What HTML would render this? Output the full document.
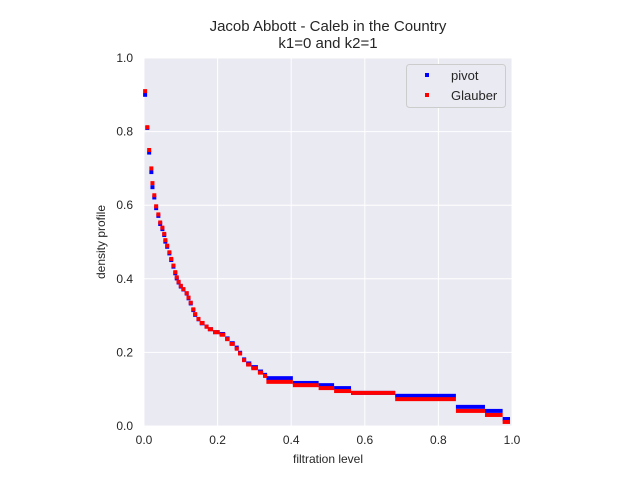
<!DOCTYPE html>
<html><head><meta charset="utf-8"><style>
body{margin:0;background:#fff}
svg{display:block;font-family:"Liberation Sans",sans-serif}
</style></head><body>
<svg id="chart" width="640" height="480" viewBox="0 0 640 480">
<text x="328" y="31" text-anchor="middle" font-size="15" fill="#262626">Jacob Abbott - Caleb in the Country</text>
<text x="328" y="48" text-anchor="middle" font-size="15" fill="#262626">k1=0 and k2=1</text>
<rect x="144" y="58" width="368" height="368" fill="#eaeaf2"/>
<g id="grid"></g><g id="ticks"></g><g id="marks"></g>
<text x="328" y="463" text-anchor="middle" font-size="12" fill="#262626">filtration level</text>
<text transform="translate(105,242) rotate(-90)" text-anchor="middle" font-size="12" fill="#262626">density profile</text>
<g>
<rect x="406.5" y="64.5" width="99" height="43" rx="3" fill="#eaeaf2" stroke="#cccccc"/>
<rect x="425" y="73" width="4" height="4" fill="#0000ff"/>
<text x="451" y="80" font-size="13" fill="#262626">pivot</text>
<rect x="425" y="93" width="4" height="4" fill="#ff0000"/>
<text x="451" y="100" font-size="13" fill="#262626">Glauber</text>
</g>
</svg>
<script>
const stepX=[0.003,0.009,0.014,0.02,0.023,0.028,0.033,0.039,0.044,0.05,0.055,0.058,0.063,0.069,0.074,0.08,0.085,0.089,0.094,0.1,0.107,0.116,0.121,0.127,0.134,0.139,0.148,0.157,0.17,0.179,0.193,0.211,0.226,0.238,0.252,0.261,0.272,0.283,0.297,0.315,0.329,0.338,0.41,0.48,0.522,0.568,0.688,0.853,0.932,0.98];
const pivotY=[0.90,0.81,0.743,0.69,0.649,0.621,0.592,0.571,0.549,0.535,0.519,0.501,0.487,0.469,0.451,0.433,0.415,0.401,0.39,0.379,0.371,0.36,0.347,0.333,0.315,0.302,0.29,0.279,0.27,0.263,0.255,0.25,0.238,0.225,0.213,0.199,0.181,0.17,0.16,0.148,0.139,0.13,0.117,0.111,0.103,0.09,0.082,0.052,0.041,0.019];
const glauberY=[0.91,0.812,0.75,0.70,0.66,0.627,0.597,0.575,0.553,0.539,0.522,0.505,0.49,0.472,0.454,0.436,0.418,0.404,0.392,0.381,0.372,0.361,0.349,0.335,0.317,0.304,0.291,0.28,0.27,0.263,0.255,0.248,0.236,0.223,0.21,0.197,0.179,0.167,0.157,0.145,0.136,0.12,0.111,0.103,0.095,0.09,0.073,0.041,0.03,0.011];
const xTicks=["0.0","0.2","0.4","0.6","0.8","1.0"];
const yTicks=["0.0","0.2","0.4","0.6","0.8","1.0"];
const NS="http://www.w3.org/2000/svg";
const X=v=>144+v*368, Y=v=>426-v*368;
function mk(t,a,p){const e=document.createElementNS(NS,t);for(const k in a)e.setAttribute(k,a[k]);p.appendChild(e);return e;}
const grid=document.getElementById('grid'),ticks=document.getElementById('ticks'),marks=document.getElementById('marks');
xTicks.forEach(s=>{const v=parseFloat(s);
 const l=mk('line',{x1:X(v),x2:X(v),y1:58,y2:426,stroke:'#fff','stroke-width':1},grid);
 
 
 const t=mk('text',{x:X(v),y:444,'text-anchor':'middle','font-size':12,fill:'#262626'},ticks);t.textContent=s;
 
 });
yTicks.forEach(s=>{const v=parseFloat(s);
 const l=mk('line',{x1:144,x2:512,y1:Y(v),y2:Y(v),stroke:'#fff','stroke-width':1},grid);
 
 
 const t=mk('text',{x:133,y:Y(v)+4,'text-anchor':'end','font-size':12,fill:'#262626'},ticks);t.textContent=s;
 
 });
function series(ys,color,name){
 const g=mk('g',{fill:color},marks);
 
 
 for(let i=0;i<stepX.length;i++){
  const x0=X(stepX[i]),x1=i+1<stepX.length?X(stepX[i+1]):X(1);
  const w=Math.max(4,x1-x0);
  const r=mk('rect',{x:x0-2,y:Y(ys[i])-2,width:w,height:4},g);
  
  
 }
}
series(pivotY,'#0000ff','pivot');
series(glauberY,'#ff0000','glauber');
</script>
</body></html>
